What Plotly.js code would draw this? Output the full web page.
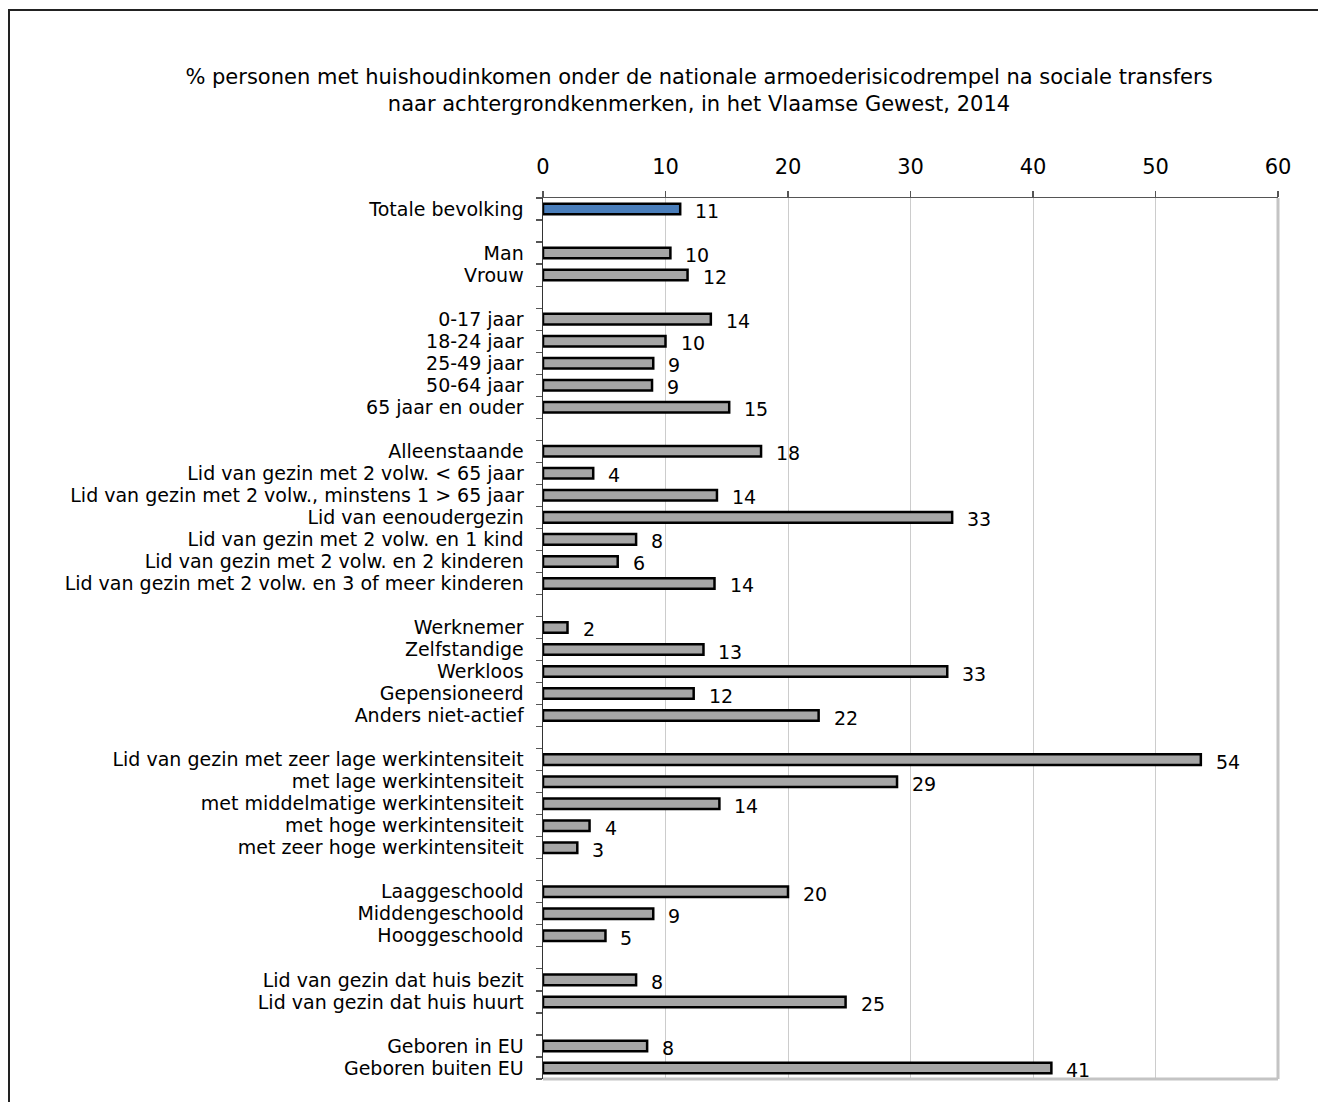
<!DOCTYPE html>
<html>
<head>
<meta charset="utf-8">
<script src="https://cdn.plot.ly/plotly-3.0.1.min.js"></script>
<style>
  html, body { margin: 0; padding: 0; background: #fff; }
  #frame { position: absolute; left: 8px; top: 9px; width: 1320px; height: 1100px;
           border-top: 2px solid #222; border-left: 2px solid #222; pointer-events: none; }
  #chart { width: 1318px; height: 1102px; }
</style>
</head>
<body>
<div id="chart"></div>
<div id="frame"></div>
<script>
// ---- data ----
const categories = [
  "Totale bevolking", " ",
  "Man", "Vrouw", "  ",
  "0-17 jaar", "18-24 jaar", "25-49 jaar", "50-64 jaar", "65 jaar en ouder", "   ",
  "Alleenstaande", "Lid van gezin met 2 volw. < 65 jaar", "Lid van gezin met 2 volw., minstens 1 > 65 jaar",
  "Lid van eenoudergezin", "Lid van gezin met 2 volw. en 1 kind", "Lid van gezin met 2 volw. en 2 kinderen",
  "Lid van gezin met 2 volw. en 3 of meer kinderen", "    ",
  "Werknemer", "Zelfstandige", "Werkloos", "Gepensioneerd", "Anders niet-actief", "     ",
  "Lid van gezin met zeer lage werkintensiteit", "met lage werkintensiteit", "met middelmatige werkintensiteit",
  "met hoge werkintensiteit", "met zeer hoge werkintensiteit", "      ",
  "Laaggeschoold", "Middengeschoold", "Hooggeschoold", "       ",
  "Lid van gezin dat huis bezit", "Lid van gezin dat huis huurt", "        ",
  "Geboren in EU", "Geboren buiten EU"
];
const values = [
  11.2, null,
  10.4, 11.8, null,
  13.7, 10.0, 9.0, 8.9, 15.2, null,
  17.8, 4.1, 14.2, 33.4, 7.6, 6.1, 14.0, null,
  2.0, 13.1, 33.0, 12.3, 22.5, null,
  53.7, 28.9, 14.4, 3.8, 2.8, null,
  20.0, 9.0, 5.1, null,
  7.6, 24.7, null,
  8.5, 41.5
];
const valueLabels = [
  "11", "",
  "10", "12", "",
  "14", "10", "9", "9", "15", "",
  "18", "4", "14", "33", "8", "6", "14", "",
  "2", "13", "33", "12", "22", "",
  "54", "29", "14", "4", "3", "",
  "20", "9", "5", "",
  "8", "25", "",
  "8", "41"
];
const xTicks = [0, 10, 20, 30, 40, 50, 60];
const titleText = "% personen met huishoudinkomen onder de nationale armoederisicodrempel na sociale transfers<br>naar achtergrondkenmerken, in het Vlaamse Gewest, 2014";

// ---- styles ----
const FONT = "DejaVu Sans, Verdana, sans-serif";
const barColors = categories.map((c, i) => i === 0 ? "#4a7ebb" : "#a6a6a6");

const trace = {
  type: "bar",
  orientation: "h",
  y: categories,
  x: values,
  marker: { color: barColors, line: { color: "#000", width: 2.5 } },
  hoverinfo: "skip"
};

const annotations = [];
categories.forEach((c, i) => {
  if (values[i] !== null) {
    annotations.push({
      x: values[i], y: c, xref: "x", yref: "y",
      text: valueLabels[i], showarrow: false,
      xanchor: "left", yanchor: "middle", xshift: 13, yshift: -2,
      font: { family: FONT, size: 19, color: "#000" }
    });
  }
});

const layout = {
  width: 1318, height: 1102,
  margin: { l: 543, r: 40, t: 198, b: 23, pad: 0 },
  paper_bgcolor: "#fff", plot_bgcolor: "#fff",
  showlegend: false,
  bargap: 0.52,
  font: { family: FONT, size: 19, color: "#000" },
  title: {
    text: titleText,
    font: { family: FONT, size: 21, color: "#000" },
    x: 699 / 1318, xref: "container", xanchor: "center",
    y: 1 - 84 / 1102, yref: "container", yanchor: "top"
  },
  xaxis: {
    side: "top",
    range: [0, 60],
    tickvals: xTicks,
    ticktext: xTicks.map(String),
    tickfont: { family: FONT, size: 21, color: "#000" },
    showgrid: true, gridcolor: "#cccccc", gridwidth: 1,
    zeroline: false,
    showline: true, linecolor: "#555", linewidth: 1.5,
    ticks: "outside", ticklen: 6, tickcolor: "#555", tickwidth: 1.5,
    ticklabelstandoff: 8,
    fixedrange: true
  },
  yaxis: {
    type: "category",
    categoryorder: "array",
    categoryarray: categories,
    tickmode: "array",
    tickvals: categories,
    ticktext: categories,
    range: [categories.length - 0.5, -0.5],
    tickfont: { family: FONT, size: 19, color: "#000" },
    showgrid: false, zeroline: false,
    showline: true, linecolor: "#333", linewidth: 1.5,
    ticks: "outside", tickson: "boundaries", ticklen: 6, tickcolor: "#555", tickwidth: 1.2,
    ticklabelstandoff: 14,
    fixedrange: true
  },
  shapes: [
    { type: "line", xref: "x domain", yref: "y domain", x0: 1, x1: 1, y0: 0, y1: 1,
      line: { color: "#c4c4c4", width: 3 } },
    { type: "line", xref: "x domain", yref: "y domain", x0: 0, x1: 1, y0: 0, y1: 0,
      line: { color: "#c4c4c4", width: 3 } }
  ],
  annotations: annotations
};

Plotly.newPlot("chart", [trace], layout, { displayModeBar: false, staticPlot: true });
</script>
</body>
</html>
